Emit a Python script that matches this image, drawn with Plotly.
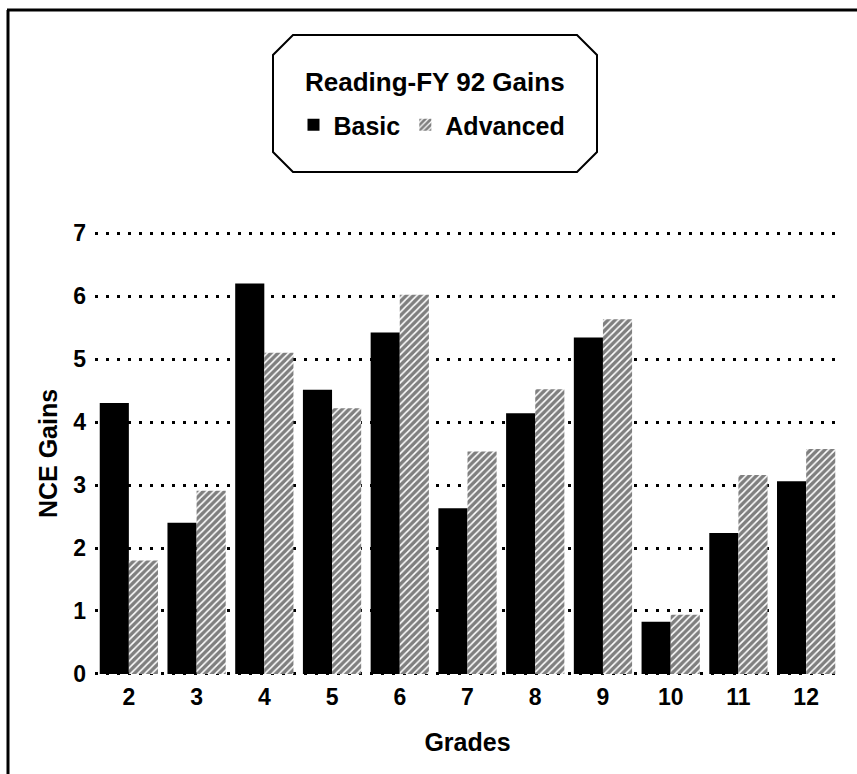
import plotly.graph_objects as go

grades = ["2", "3", "4", "5", "6", "7", "8", "9", "10", "11", "12"]
basic = [4.30, 2.40, 6.20, 4.51, 5.42, 2.63, 4.14, 5.34, 0.83, 2.24, 3.06]
advanced = [1.80, 2.91, 5.10, 4.22, 6.02, 3.53, 4.52, 5.63, 0.94, 3.16, 3.57]
y_ticks = [0, 1, 2, 3, 4, 5, 6, 7]

FONT = "Liberation Sans, Arial, sans-serif"

W, H = 857, 774
L, R, T, B = 95, 17, 232, 99
pw = W - L - R
ph = H - T - B
pad = 0.016  # keep the 0 and 7 gridlines inside the plot area


def px(x):
    return (x - L) / pw


def py(y):
    return (H - B - y) / ph


fig = go.Figure()
fig.add_trace(go.Bar(
    x=grades, y=basic, name="Basic",
    marker=dict(color="black", line=dict(width=0)),
))
fig.add_trace(go.Bar(
    x=grades, y=advanced, name="Advanced",
    marker=dict(color="white",
                pattern=dict(shape="/", fgcolor="black", bgcolor="white",
                             size=5, solidity=0.68),
                line=dict(width=0)),
))

# octagonal legend frame
x0, x1, y0, y1, c = 273, 597, 35, 172, 20
pts = [(x0 + c, y0), (x1 - c, y0), (x1, y0 + c), (x1, y1 - c),
       (x1 - c, y1), (x0 + c, y1), (x0, y1 - c), (x0, y0 + c)]
path = "M " + " L ".join(f"{px(a):.5f},{py(b):.5f}" for a, b in pts) + " Z"

shapes = [
    dict(type="path", xref="paper", yref="paper", path=path,
         line=dict(color="black", width=2)),
    dict(type="line", xref="paper", yref="paper",
         x0=px(7), x1=px(857), y0=py(10), y1=py(10),
         line=dict(color="black", width=3)),
    dict(type="line", xref="paper", yref="paper",
         x0=px(8), x1=px(8), y0=py(10), y1=py(774),
         line=dict(color="black", width=3)),
]

fig.update_layout(
    width=W, height=H,
    margin=dict(l=L, r=R, t=T, b=B, autoexpand=False),
    paper_bgcolor="white", plot_bgcolor="white",
    font=dict(family=FONT, color="black", size=23, weight="bold"),
    barmode="group", bargap=0.14, bargroupgap=0,
    showlegend=True,
    legend=dict(orientation="h", x=px(432), xanchor="center",
                y=py(125), yanchor="middle",
                bgcolor="rgba(0,0,0,0)", borderwidth=0,
                font=dict(size=25, family=FONT, weight="bold"),
                itemwidth=30, traceorder="normal"),
    shapes=shapes,
    annotations=[dict(text="<b>Reading-FY 92 Gains</b>", xref="paper", yref="paper",
                      x=px(435), y=py(82), xanchor="center", yanchor="middle",
                      showarrow=False,
                      font=dict(size=26, family=FONT))],
    xaxis=dict(showgrid=False, zeroline=False, showline=False, ticks="",
               tickfont=dict(size=23, family=FONT, weight="bold"),
               ticklabelstandoff=6,
               title=dict(text="<b>Grades</b>", font=dict(size=25, family=FONT),
                          standoff=24)),
    yaxis=dict(range=[-pad, 7 + pad], tickvals=y_ticks, showline=False, zeroline=False,
               showgrid=True, gridcolor="black", gridwidth=2.5,
               griddash="2.5px,8.5px", ticks="",
               tickfont=dict(size=23, family=FONT, weight="bold"),
               ticklabelstandoff=8,
               title=dict(text="<b>NCE Gains</b>", font=dict(size=25, family=FONT),
                          standoff=8)),
)

fig.write_html("out.html")
